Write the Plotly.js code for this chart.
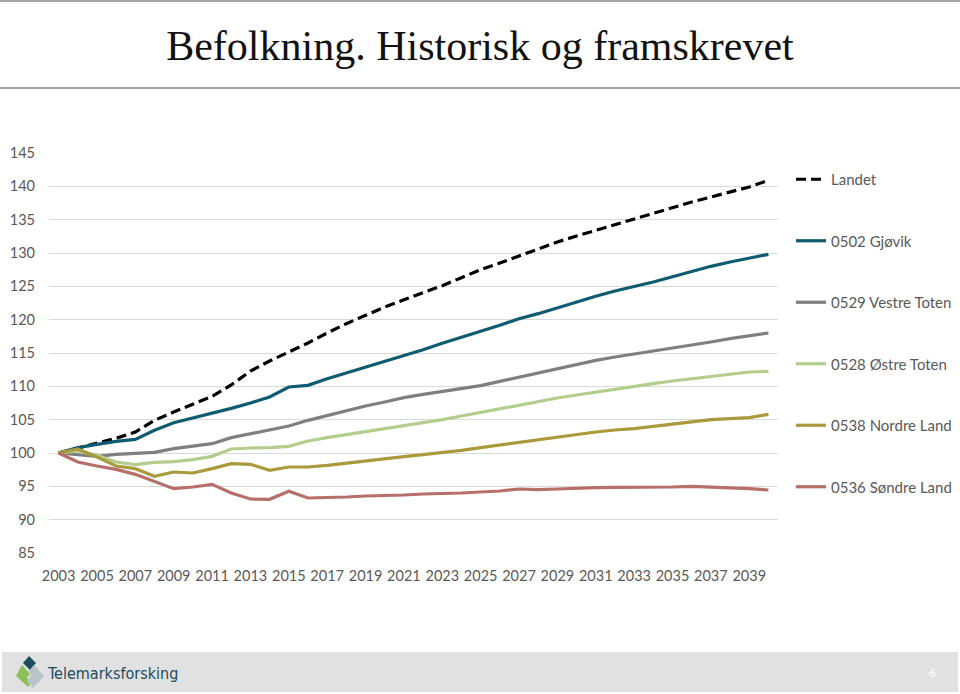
<!DOCTYPE html>
<html>
<head>
<meta charset="utf-8">
<script src="https://cdn.plot.ly/plotly-3.0.1.min.js"></script>
<style>
  html, body { margin: 0; padding: 0; background: #ffffff; }
  #chart { width: 960px; height: 694px; }
</style>
</head>
<body>
<div id="chart"></div>
<script>
// ---- Data (index, 2003 = 100) ----
const years = [2003,2004,2005,2006,2007,2008,2009,2010,2011,2012,2013,2014,2015,2016,2017,2018,2019,2020,2021,2022,
               2023,2024,2025,2026,2027,2028,2029,2030,2031,2032,2033,2034,2035,2036,2037,2038,2039,2040];
const tickYears = [2003,2005,2007,2009,2011,2013,2015,2017,2019,2021,2023,2025,2027,2029,2031,2033,2035,2037,2039];

const landet = [100,100.7,101.4,102.2,103.15,104.9,106.15,107.3,108.5,110.2,112.3,113.8,115.15,116.5,118.0,119.4,120.65,121.9,123.0,124.0,
                125.1,126.3,127.5,128.5,129.55,130.65,131.65,132.55,133.4,134.3,135.15,135.9,136.8,137.65,138.4,139.15,139.9,140.9];
const gjovik = [100,100.8,101.3,101.75,102.05,103.4,104.55,105.25,105.9,106.7,107.5,108.4,109.9,110.15,111.15,112.0,112.9,113.75,114.65,115.5,
                116.45,117.4,118.25,119.15,120.15,120.9,121.8,122.65,123.5,124.3,124.95,125.65,126.45,127.25,128.0,128.65,129.25,129.8];
const vestreToten = [100,99.8,99.5,99.8,99.9,100.1,100.65,101.0,101.4,102.3,102.9,103.45,104.05,104.9,105.65,106.4,107.05,107.65,108.3,108.8,
                109.25,109.65,110.1,110.75,111.4,112.0,112.65,113.3,113.9,114.4,114.85,115.2,115.65,116.15,116.65,117.15,117.6,118.0];
const ostreToten = [100,100.3,99.65,98.65,98.25,98.6,98.7,99.0,99.5,100.6,100.75,100.8,101.0,101.8,102.3,102.75,103.15,103.55,104.0,104.5,
                105.0,105.55,106.1,106.65,107.15,107.75,108.25,108.7,109.15,109.6,109.95,110.4,110.8,111.15,111.5,111.8,112.15,112.25];
const nordreLand = [100,100.6,99.4,98.05,97.65,96.5,97.15,97.0,97.65,98.4,98.3,97.4,97.9,97.9,98.15,98.5,98.8,99.15,99.45,99.75,
                100.05,100.4,100.8,101.2,101.6,102.05,102.4,102.8,103.15,103.45,103.65,104.0,104.3,104.65,105.0,105.15,105.3,105.8];
const sondreLand = [100,98.65,98.05,97.55,96.8,95.7,94.65,94.9,95.3,94.0,93.1,93.05,94.25,93.25,93.3,93.4,93.55,93.6,93.7,93.85,
                93.9,94.0,94.15,94.3,94.6,94.5,94.6,94.75,94.8,94.85,94.85,94.9,94.9,95.0,94.9,94.8,94.65,94.45];

const seriesNames = ["Landet","0502 Gjøvik","0529 Vestre Toten","0528 Østre Toten","0538 Nordre Land","0536 Søndre Land"];
const seriesData = [landet, gjovik, vestreToten, ostreToten, nordreLand, sondreLand];
const seriesColors = ["#000000","#0f5b70","#7f7f7f","#b4cd8d","#a99a3c","#b66f69"];
const seriesDash = ["10px,5px","solid","solid","solid","solid","solid"];

// ---- layout helpers (plot area pixel geometry) ----
const PL = 49, PR = 778, PT = 153, PB = 553;
const X = px => (px - PL) / (PR - PL);
const Y = py => (PB - py) / (PB - PT);

const traces = seriesNames.map((n, i) => ({
  type: "scatter", mode: "lines", name: n,
  x: years, y: seriesData[i],
  legendgroup: "g" + i,
  line: { color: seriesColors[i], width: 3.2, dash: seriesDash[i] },
  hoverinfo: "skip"
}));

const axisFont = { family: "Lato, 'Open Sans', sans-serif", size: 14.5, color: "#595959" };

const shapes = [
  { type: "line", xref: "paper", yref: "paper", x0: X(0), x1: X(960), y0: Y(1), y1: Y(1), line: { color: "#a6a6a6", width: 2 } },
  { type: "line", xref: "paper", yref: "paper", x0: X(0), x1: X(960), y0: Y(88), y1: Y(88), line: { color: "#a6a6a6", width: 2 } },
  { type: "rect", xref: "paper", yref: "paper", x0: X(2), x1: X(958), y0: Y(652), y1: Y(692), line: { width: 0 }, fillcolor: "#e1e1e1" },
  { type: "path", xref: "paper", yref: "paper",
    path: `M${X(29)},${Y(656)} L${X(36)},${Y(663)} L${X(30)},${Y(670)} L${X(23)},${Y(663)} Z`,
    fillcolor: "#1b4d5e", line: { width: 0 } },
  { type: "path", xref: "paper", yref: "paper",
    path: `M${X(22)},${Y(665)} L${X(30)},${Y(674)} L${X(27)},${Y(678)} L${X(31)},${Y(683)} L${X(28)},${Y(687)} L${X(16)},${Y(676)} Z`,
    fillcolor: "#8fbf5a", line: { width: 0 } },
  { type: "path", xref: "paper", yref: "paper",
    path: `M${X(34)},${Y(665)} L${X(44)},${Y(676)} L${X(33)},${Y(688)} L${X(27)},${Y(681)} L${X(31)},${Y(676)} L${X(29)},${Y(671)} Z`,
    fillcolor: "#b9c3c8", line: { width: 0 } }
];

const annotations = [
  { xref: "paper", yref: "paper", x: X(45), y: Y(673), xanchor: "left", yanchor: "middle", showarrow: false,
    text: "Telemarksforsking",
    font: { family: "'Liberation Sans Narrow', 'DejaVu Sans Condensed', Roboto, sans-serif", size: 16, color: "#1d4b5c" } },
  { xref: "paper", yref: "paper", x: X(932), y: Y(672), xanchor: "center", yanchor: "middle", showarrow: false,
    text: "6", font: { family: "Lato, sans-serif", size: 12, color: "#ffffff" } }
];

const layout = {
  width: 960, height: 694,
  margin: { l: PL, r: 960 - PR, t: PT, b: 694 - PB, pad: 0 },
  paper_bgcolor: "#ffffff", plot_bgcolor: "#ffffff",
  title: {
    text: "Befolkning. Historisk og framskrevet",
    x: 0.5, xanchor: "center", y: 1 - 45 / 694, yanchor: "middle",
    font: { family: "'Liberation Serif', 'Times New Roman', serif", size: 42, color: "#111111" }
  },
  xaxis: {
    type: "linear", range: [2002.5, 2040.5],
    tickmode: "array", tickvals: tickYears, ticktext: tickYears.map(String),
    showgrid: false, zeroline: false, showline: false, ticks: "",
    ticklabelstandoff: 12,
    tickfont: axisFont, fixedrange: true
  },
  yaxis: {
    range: [85, 145], tickmode: "array", tickvals: [85,90,95,100,105,110,115,120,125,130,135,140,145],
    showgrid: true, gridcolor: "#d9d9d9", gridwidth: 1, zeroline: false, showline: false, ticks: "",
    ticklabelstandoff: 13,
    tickfont: axisFont, fixedrange: true
  },
  showlegend: true,
  legend: {
    xref: "container", yref: "container",
    x: 791 / 960, xanchor: "left",
    y: 1 - 163 / 694, yanchor: "top",
    font: { family: "Lato, 'Open Sans', sans-serif", size: 15, color: "#595959" },
    bgcolor: "rgba(0,0,0,0)", borderwidth: 0,
    traceorder: "grouped", tracegroupgap: 39,
    itemclick: false, itemdoubleclick: false
  },
  shapes: shapes,
  annotations: annotations
};

Plotly.newPlot("chart", traces, layout, { displayModeBar: false, staticPlot: true });
</script>
</body>
</html>
